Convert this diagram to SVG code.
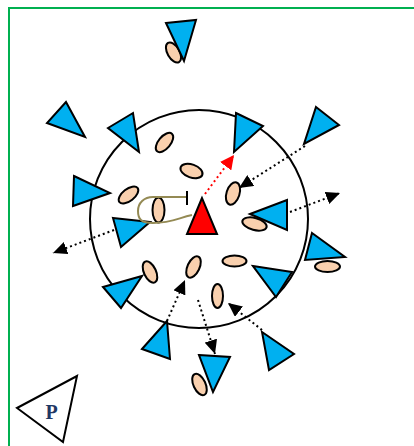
<svg xmlns="http://www.w3.org/2000/svg" width="414" height="446" viewBox="0 0 414 446">
<style>
.tri{fill:#00B0F0;stroke:#000;stroke-width:2;stroke-linejoin:miter}
.ell{fill:#F9D0AE;stroke:#000;stroke-width:2}
.dot{fill:none;stroke:#000;stroke-width:2;stroke-dasharray:2 3}
.dotr{fill:none;stroke:#FF0000;stroke-width:2;stroke-dasharray:2 3}
</style>
<defs>
<marker id="ah" viewBox="0 0 14 13" refX="14" refY="6.5" markerWidth="14" markerHeight="13" markerUnits="userSpaceOnUse" orient="auto"><path d="M0,0 L14,6.5 L0,13 z" fill="#000"/></marker>
<marker id="ahr" viewBox="0 0 14 14" refX="14" refY="7" markerWidth="14" markerHeight="14" markerUnits="userSpaceOnUse" orient="auto"><path d="M0,0 L14,7 L0,14 z" fill="#FF0000"/></marker>
</defs>
<rect x="9" y="8" width="420" height="450" fill="#fff" stroke="#00B050" stroke-width="2"/>
<g id="circle"><circle cx="199" cy="219" r="109" fill="none" stroke="#000" stroke-width="2"/></g>
<g id="ellipses">
<ellipse id="e1" class="ell" cx="173.5" cy="52.5" rx="6" ry="11" transform="rotate(-30 173.5 52.5)"/>
<ellipse id="e2" class="ell" cx="164.5" cy="142.5" rx="6" ry="11.5" transform="rotate(40 164.5 142.5)"/>
<ellipse id="e3" class="ell" cx="191.5" cy="171" rx="11.5" ry="6.5" transform="rotate(20 191.5 171)"/>
<ellipse id="e4" class="ell" cx="128.5" cy="195" rx="11.5" ry="6" transform="rotate(-38 128.5 195)"/>
<ellipse id="e5" class="ell" cx="158.5" cy="210" rx="6" ry="12.5"/>
<ellipse id="e6" class="ell" cx="233" cy="193.5" rx="6.5" ry="11.5" transform="rotate(18 233 193.5)"/>
<ellipse id="e7" class="ell" cx="254.5" cy="224" rx="12.5" ry="6" transform="rotate(15 254.5 224)"/>
<ellipse id="e8" class="ell" cx="234.5" cy="261" rx="12" ry="5.5"/>
<ellipse id="e9" class="ell" cx="150" cy="272" rx="6" ry="11.5" transform="rotate(-25 150 272)"/>
<ellipse id="e10" class="ell" cx="193.5" cy="267" rx="6" ry="11.5" transform="rotate(25 193.5 267)"/>
<ellipse id="e11" class="ell" cx="217.5" cy="296" rx="5.5" ry="12"/>
<ellipse id="e12" class="ell" cx="327.5" cy="266.5" rx="12.5" ry="5.5"/>
<ellipse id="e13" class="ell" cx="199.5" cy="384.5" rx="6" ry="11.5" transform="rotate(-25 199.5 384.5)"/>
</g>
<g id="triangles">
<polygon id="t1" class="tri" points="166,23 196,20 184,61"/>
<polygon id="t2" class="tri" points="66,102 47,123 85,137"/>
<polygon id="t3" class="tri" points="108,128 133,113 139,152"/>
<polygon id="t4" class="tri" points="236,113 263,126 234,152"/>
<polygon id="t5" class="tri" points="316,107 339,125 304,144"/>
<polygon id="t6" class="tri" points="74,176 110,193 73,206"/>
<polygon id="t7" class="tri" points="113,218 150,222 121,247"/>
<polygon id="t8" class="tri" points="103,287 142,276 121,308"/>
<polygon id="t9" class="tri" points="250,214 287,200 287,230"/>
<polygon id="t10" class="tri" points="312,233 345,257 305,260"/>
<polygon id="t11" class="tri" points="253,266 292,272 276,297"/>
<polygon id="t12" class="tri" points="142,349 167,321 170,359"/>
<polygon id="t13" class="tri" points="199,355 230,357 213,392"/>
<polygon id="t14" class="tri" points="262,332 294,354 269,370"/>
</g>
<g id="red-player"><polygon points="202,198 187,234 217,234" fill="#FF0000" stroke="#000" stroke-width="2"/></g>
<g id="olive-path">
<path d="M192,215 C178,218 172,223 153,223 C141,223 138,219 138,211 C138,203 144,197 153,197 L187,197" fill="none" stroke="#948A54" stroke-width="2"/>
<line x1="187" y1="191" x2="187" y2="205" stroke="#000" stroke-width="2"/>
</g>
<g id="connectors">
<line class="dotr" x1="205" y1="194" x2="234" y2="155" marker-end="url(#ahr)"/>
<line class="dot" x1="305" y1="146" x2="239" y2="188" marker-end="url(#ah)"/>
<line class="dot" x1="290" y1="212" x2="340" y2="193" marker-end="url(#ah)"/>
<line class="dot" x1="114" y1="230" x2="53" y2="253" marker-end="url(#ah)"/>
<line class="dot" x1="167" y1="321" x2="185" y2="280" marker-end="url(#ah)"/>
<line class="dot" x1="198" y1="300" x2="215" y2="354" marker-end="url(#ah)"/>
<line class="dot" x1="262" y1="330" x2="228" y2="303" marker-end="url(#ah)"/>
</g>
<g id="P">
<polygon points="17,408 77,376 63,442" fill="#fff" stroke="#000" stroke-width="2"/>
<text x="51.5" y="419" font-family="'Liberation Serif', serif" font-weight="bold" font-size="20" fill="#1F3864" text-anchor="middle">P</text>
</g>
</svg>
